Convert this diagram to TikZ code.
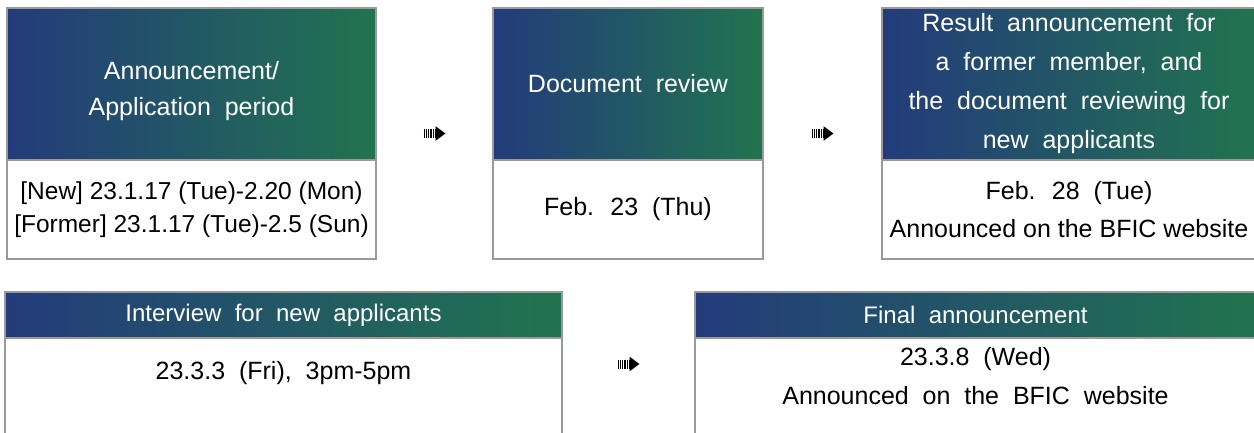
\documentclass[tikz,border=0pt]{standalone}
\usepackage{fontspec}
\setmainfont{Liberation Sans}
\usetikzlibrary{positioning,calc,arrows.meta}
\definecolor{hdblue}{HTML}{233B7B}
\definecolor{hdgreen}{HTML}{21744F}
\definecolor{rim}{HTML}{9A9A9A}
\tikzset{
  head/.style={draw=rim,line width=2pt,left color=hdblue,right color=hdgreen,
    text=white,align=center,anchor=north west,inner sep=0pt,outer sep=0pt,
    font=\fontsize{25}{36}\selectfont},
  body/.style={draw=rim,line width=2pt,fill=white,align=center,
    inner sep=0pt,outer sep=0pt,font=\fontsize{25}{38}\selectfont},
  fletch/.style={line width=9pt,dash pattern=on 1.3pt off 1pt,
    -{Triangle[length=10pt,width=14pt]}}
}
\begin{document}
\begin{tikzpicture}[x=1pt,y=-1pt]
\useasboundingbox (0,0) rectangle (1254,433);
% upper row
\node[head,minimum width=369pt,minimum height=152pt,text height=68pt] (hd1) at (7,8)
  {Announcement/\\Application~ period};
\node[body,minimum width=369pt,minimum height=99pt,below=0pt of hd1,
  font=\fontsize{24.5}{33}\selectfont] (bd1)
  {[New] 23.1.17 (Tue)-2.20 (Mon)\\{[Former]} 23.1.17 (Tue)-2.5 (Sun)};
\node[head,minimum width=270pt,minimum height=152pt] (hd2) at (493,8)
  {Document~ review};
\node[body,minimum width=270pt,minimum height=99pt,below=0pt of hd2] (bd2)
  {Feb.~ 23~ (Thu)};
\node[head,minimum width=374pt,minimum height=152pt,
  font=\fontsize{25}{39}\selectfont] (hd3) at (882,8)
  {Result~ announcement~ for\\a~ former~ member,~ and\\
   the~ document~ reviewing~ for\\new~ applicants};
\node[body,minimum width=374pt,minimum height=99pt,below=0pt of hd3] (bd3)
  {Feb.~ 28~ (Tue)\\Announced on the BFIC website};
% lower row
\node[head,minimum width=557pt,minimum height=46pt,
  font=\fontsize{24}{28}\selectfont] (hd4) at (5,292)
  {Interview~ for~ new~ applicants};
\node[body,minimum width=557pt,below=0pt of hd4,
  text height=41pt,text depth=57pt] (bd4)
  {23.3.3~ (Fri),~ 3pm-5pm};
\node[head,minimum width=561pt,minimum height=46pt,
  font=\fontsize{24}{28}\selectfont] (hd5) at (695,292)
  {Final~ announcement};
\node[body,minimum width=561pt,below=0pt of hd5,
  font=\fontsize{25}{39}\selectfont,text height=66pt,text depth=32pt] (bd5)
  {23.3.8~ (Wed)\\Announced~ on~ the~ BFIC~ website};
% arrows
\coordinate (m1) at ($(hd1.north east)!.5!(bd2.south west)$);
\coordinate (m2) at ($(hd2.north east)!.5!(bd3.south west)$);
\coordinate (m3) at ($(hd4.north east)!.5!(bd5.south west)$);
\foreach \m in {m1,m2,m3}
  \draw[fletch] ([xshift=-11pt]\m) -- ([xshift=11pt]\m);
\end{tikzpicture}
\end{document}
